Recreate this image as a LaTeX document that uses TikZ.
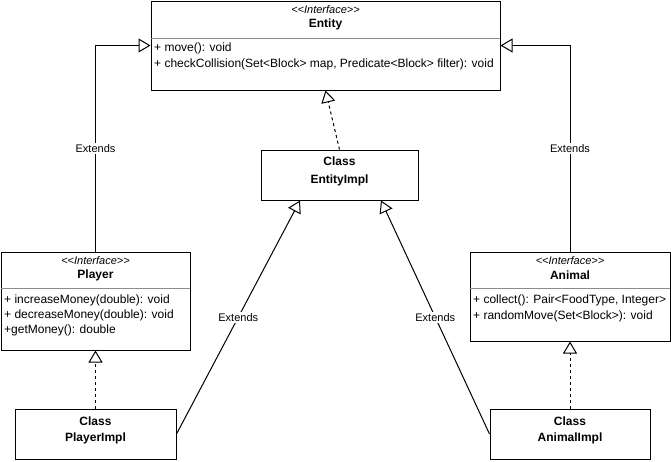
\documentclass[tikz,border=0pt]{standalone}
\usepackage{fontspec}
\setmainfont{Liberation Sans}
\usetikzlibrary{arrows.meta,calc}
\tikzset{
  box/.style={draw, line width=1pt, fill=white, inner sep=0pt},
  txt/.style={inner sep=0pt, font=\fontsize{12}{14}\selectfont},
  ttl/.style={txt, font=\fontsize{12}{14}\selectfont\bfseries},
  stereo/.style={txt, font=\fontsize{11}{13}\selectfont\itshape},
  mem/.style={txt, anchor=west},
  divider/.style={draw=black!45, line width=0.8pt},
  ext/.style={line width=1pt, -{Triangle[open, length=12pt, width=14pt]}},
  impl/.style={ext, dash pattern=on 3pt off 3pt},
  lbl/.style={fill=white, inner sep=1.5pt, font=\fontsize{11}{13}\selectfont}
}
\begin{document}
\begin{tikzpicture}[x=1pt,y=-1pt]
\useasboundingbox (0,0) rectangle (671,461);
% Entity
\node[box, minimum width=349pt, minimum height=89pt] (entity) at (325.5,45.5) {};
\node[stereo] (entityS) at (325.5,10) {<{}<Interface>{}>};
\node[ttl] (entityT) at (325.5,24.5) {Entity};
\draw[divider] (151,38) -- (500,38);
\node[mem] (entityM1) at (154,48.5) {+ move(): void};
\node[mem] (entityM2) at (154,64.5) {+ checkCollision(Set<Block> map, Predicate<Block> filter): void};
% EntityImpl
\node[box, minimum width=157pt, minimum height=50pt] (entityimpl) at (339.5,175) {};
\node[ttl] (entityimplA) at (339.5,161) {Class};
\node[ttl] (entityimplB) at (339.5,180) {EntityImpl};
% Player
\node[box, minimum width=189pt, minimum height=98pt] (player) at (95.5,301) {};
\node[stereo] (playerS) at (95.5,261) {<{}<Interface>{}>};
\node[ttl] (playerT) at (95.5,275) {Player};
\draw[divider] (1,288) -- (190,288);
\node[mem] (playerM1) at (4,300) {+ increaseMoney(double): void};
\node[mem] (playerM2) at (4,315) {+ decreaseMoney(double): void};
\node[mem] (playerM3) at (4,330) {+getMoney(): double};
% Animal
\node[box, minimum width=200pt, minimum height=89pt] (animal) at (570,296.5) {};
\node[stereo] (animalS) at (570,261) {<{}<Interface>{}>};
\node[ttl] (animalT) at (570,275) {Animal};
\draw[divider] (470,288) -- (670,288);
\node[mem] (animalM1) at (473,300.5) {+ collect(): Pair<FoodType, Integer>};
\node[mem] (animalM2) at (473,316) {+ randomMove(Set<Block>): void};
% PlayerImpl
\node[box, minimum width=161pt, minimum height=50pt] (playerimpl) at (95.5,434) {};
\node[ttl] (playerimplA) at (95.5,421) {Class};
\node[ttl] (playerimplB) at (95.5,438.5) {PlayerImpl};
% AnimalImpl
\node[box, minimum width=160pt, minimum height=50pt] (animalimpl) at (570,434) {};
\node[ttl] (animalimplA) at (570,421) {Class};
\node[ttl] (animalimplB) at (570,438.5) {AnimalImpl};
% connectors
\coordinate (eiL) at ($(entityimpl.south)+(-39.5,0)$);
\coordinate (eiR) at ($(entityimpl.south)+(41.5,0)$);
\draw[ext] (player.north) |- (entity.west) node[lbl, pos=0.25] (lblP) {Extends};
\draw[ext] (animal.north) |- (entity.east) node[lbl, pos=0.25] (lblA) {Extends};
\draw[impl] (entityimpl.north) -- (entity.south);
\draw[impl] (playerimpl.north) -- (player.south);
\draw[impl] (animalimpl.north) -- (animal.south);
\draw[ext] (playerimpl.east) -- (eiL) node[lbl, pos=0.5] (lblPI) {Extends};
\draw[ext] (animalimpl.west) -- (eiR) node[lbl, pos=0.5] (lblAI) {Extends};
\end{tikzpicture}
\end{document}
